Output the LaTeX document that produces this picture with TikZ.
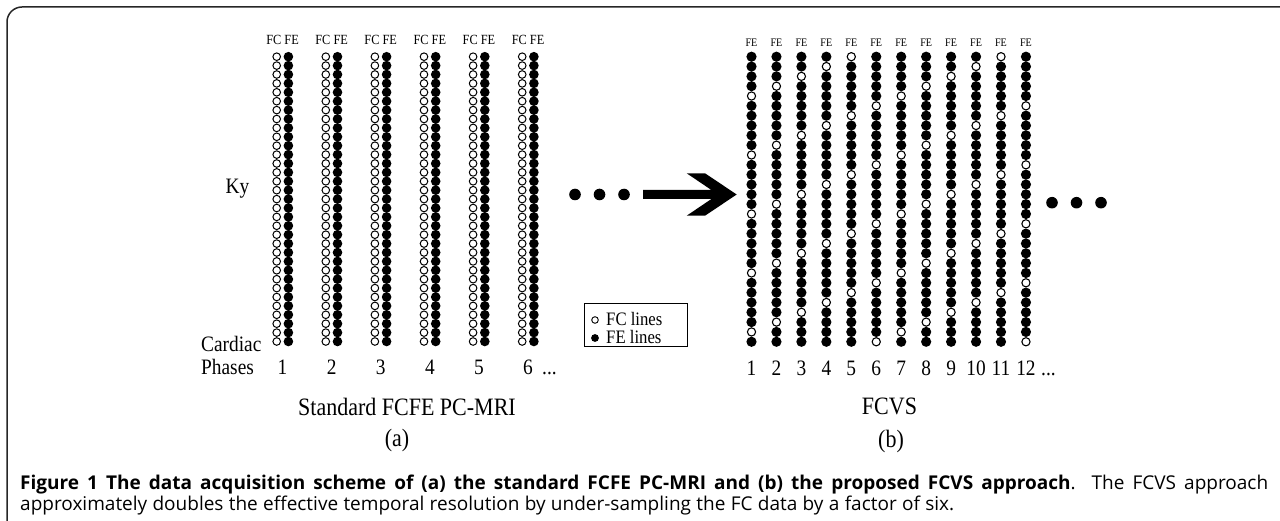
\documentclass[tikz,border=0pt]{standalone}
\usepackage{fontspec}
\setmainfont{Liberation Serif}[FakeStretch=0.88]
\newfontfamily\capfont{Open Sans}
\usetikzlibrary{calc}
\usetikzlibrary{positioning}

\begin{document}
\begin{tikzpicture}[x=1pt, y=-1pt,
			fcdot/.style = {draw=black, fill=white, line width=1pt},
			fedot/.style = {fill=black},
			tag/.style = {font=\fontsize{14}{15}\selectfont, inner sep=0pt},
			axislabel/.style = {font=\fontsize{22}{24}\selectfont, inner sep=0pt},
			paneltitle/.style = {font=\fontsize{25}{27}\selectfont, inner sep=0pt},
			caption/.style = {font=\capfont\fontsize{19}{21}\selectfont, inner sep=0pt, anchor=base west}
			]
			\useasboundingbox (0,0) rectangle (1280,521);
			\draw[line width=1.5pt, black!85, rounded corners=15pt] (7,521) -- (7,7) -- (1280,7);
			
			% (a) standard FCFE: FC and FE line per phase
			\foreach \p in {1,...,6} {
				\pgfmathsetmacro\xc{276.7+49.1*(\p-1)}
				\foreach \r in {0,...,32} {
					\fill[fedot] ({\xc+11.7},{56.7+8.9*\r}) circle (4.8pt);
					\draw[fcdot] ({\xc},{56.7+8.9*\r}) circle (3.8pt);
				}
				\node[tag, anchor=base] (lab\p) at ({\xc+5.85},45) {FC FE};
				\node[axislabel, anchor=base] (ph\p) at ({\xc+5.85},374) {\p};
			}
			\node[axislabel, anchor=base west] (phmore) at (542,374) {...};
			
			\node[axislabel, anchor=base] (ky) at (237.5,194) {Ky};
			\node[axislabel, anchor=base west] (cardiac) at (201,352) {Cardiac};
			\node[axislabel, anchor=base west] (phases) at (201,374) {Phases};
			
			\node[paneltitle, anchor=base] (titleA) at (407,415) {Standard FCFE PC-MRI};
			\node[paneltitle, anchor=base] (subA) at (397,446) {(a)};
			
			% dots and arrow
			\foreach \d in {0,1,2}
				\fill ({575+24.5*\d},194.5) circle (5.8pt);
			\fill (643,194.5) -- (643,190) -- (711.4,190) -- (686.7,173.3) -- (705,173.3)
				-- (736.7,194.5) -- (705,215.7) -- (686.7,215.7) -- (711.4,199) -- (643,199) -- cycle;
			
			% legend
			\node[draw, line width=0.8pt, minimum width=103pt, minimum height=43pt, inner sep=0pt, anchor=north west] (legend) at (584,303) {};
			\draw[fcdot, line width=0.9pt] ($(legend.north west)+(11,17)$) circle (3.3pt);
			\fill ($(legend.north west)+(11,35)$) circle (3.9pt);
			\node[tag, font=\fontsize{19}{20}\selectfont, anchor=base west] (fcleg) at ($(legend.north west)+(22,22.5)$) {FC lines};
			\node[tag, font=\fontsize{19}{20}\selectfont, anchor=base west] (feleg) at ($(legend.north west)+(22,40.5)$) {FE lines};
			
			% (b) FCVS: one FC line in six
			\foreach \c in {1,...,12} {
				\pgfmathsetmacro\xc{751.5+24.95*(\c-1)}
				\pgfmathtruncatemacro\off{mod(17-\c,6)}
				\foreach \r in {0,...,29} {
					\pgfmathtruncatemacro\isfc{mod(\r,6)==\off ? 1 : 0}
					\ifnum\isfc=0 \fill[fedot] ({\xc},{56.7+9.83*\r}) circle (5.1pt); \fi
				}
				\foreach \k in {0,...,4}
					\draw[fcdot, line width=1.1pt] ({\xc},{56.7+9.83*(\off+6*\k)}) circle (4.1pt);
				\node[tag, font=\fontsize{11.5}{12}\selectfont, anchor=base] (fe\c) at ({\xc},46.5) {FE};
				\node[axislabel, anchor=base] (cp\c) at ({\xc},375) {\c};
			}
			\node[axislabel, anchor=base west] (cpmore) at (1041,375) {...};
			\foreach \d in {0,1,2}
				\fill ({1052+24.5*\d},202.7) circle (5.8pt);
			
			\node[paneltitle, anchor=base] (titleB) at (889.5,414) {FCVS};
			\node[paneltitle, anchor=base] (subB) at (891,447) {(b)};
			
			\node[caption] (cap1) at (20,489) {\makebox[1248pt][s]{\textbf{Figure 1 The data acquisition scheme of (a) the standard FCFE PC-MRI and (b) the proposed FCVS approach}. The FCVS approach}};
			\node[caption] (cap2) at (20,510) {\makebox[934pt][s]{approximately doubles the effective temporal resolution by under-sampling the FC data by a factor of six.}};
		\end{tikzpicture}
\end{document}
